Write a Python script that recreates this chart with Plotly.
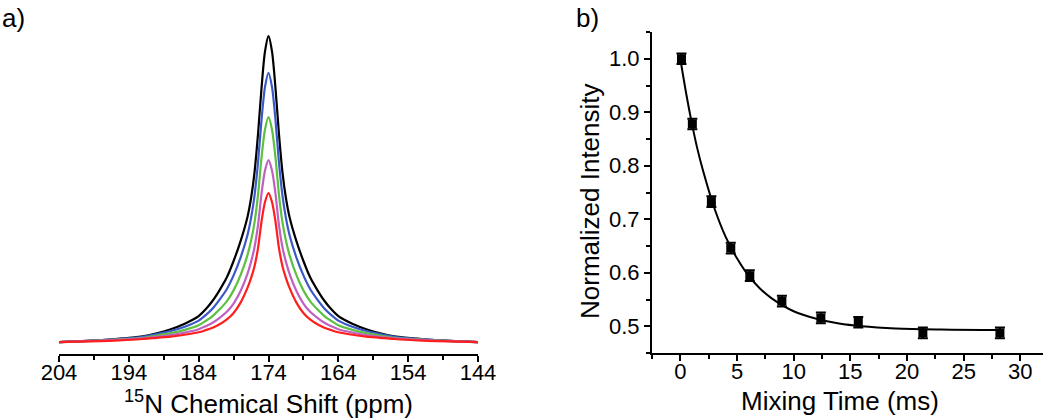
import plotly.graph_objects as go

# ---------------- Panel a) : 15N spectra ----------------
ppm = [204, 200, 196, 192, 190, 188, 186, 184, 183, 182, 181, 180, 179, 178, 177,
       176.5, 176, 175.5, 175, 174.5, 174, 173.5, 173, 172.5, 172, 171.5, 171,
       170, 169, 168, 167, 166, 165, 164, 162, 160, 158, 156, 152, 148, 144]

black_int = [0.0, 0.004, 0.01, 0.019, 0.029, 0.042, 0.06, 0.085, 0.107, 0.135, 0.17,
             0.21, 0.265, 0.33, 0.41, 0.47, 0.555, 0.68, 0.83, 0.95, 1.0,
             0.95, 0.83, 0.68, 0.555, 0.47, 0.41, 0.33, 0.265, 0.21, 0.17,
             0.135, 0.107, 0.085, 0.06, 0.042, 0.029, 0.019, 0.01, 0.004, 0.0]
blue_int = [0.0, 0.004, 0.009, 0.017, 0.026, 0.036, 0.050, 0.070, 0.088, 0.110, 0.139,
            0.172, 0.218, 0.276, 0.351, 0.405, 0.479, 0.587, 0.726, 0.834, 0.88,
            0.834, 0.726, 0.587, 0.479, 0.405, 0.351, 0.276, 0.218, 0.172, 0.139,
            0.110, 0.088, 0.070, 0.050, 0.036, 0.026, 0.017, 0.009, 0.004, 0.0]
green_int = [0.0, 0.003, 0.008, 0.014, 0.021, 0.029, 0.040, 0.055, 0.069, 0.085, 0.107,
             0.132, 0.169, 0.219, 0.285, 0.331, 0.391, 0.481, 0.603, 0.695, 0.735,
             0.695, 0.603, 0.481, 0.391, 0.331, 0.285, 0.219, 0.169, 0.132, 0.107,
             0.085, 0.069, 0.055, 0.040, 0.029, 0.021, 0.014, 0.008, 0.003, 0.0]
magenta_int = [0.0, 0.003, 0.007, 0.012, 0.017, 0.023, 0.031, 0.042, 0.052, 0.063, 0.079,
               0.098, 0.126, 0.167, 0.224, 0.262, 0.310, 0.382, 0.485, 0.561, 0.595,
               0.561, 0.485, 0.382, 0.310, 0.262, 0.224, 0.167, 0.126, 0.098, 0.079,
               0.063, 0.052, 0.042, 0.031, 0.023, 0.017, 0.012, 0.007, 0.003, 0.0]
red_int = [0.0, 0.002, 0.005, 0.010, 0.014, 0.018, 0.024, 0.032, 0.039, 0.047, 0.058,
           0.073, 0.095, 0.129, 0.178, 0.209, 0.248, 0.307, 0.394, 0.458, 0.487,
           0.458, 0.394, 0.307, 0.248, 0.209, 0.178, 0.129, 0.095, 0.073, 0.058,
           0.047, 0.039, 0.032, 0.024, 0.018, 0.014, 0.010, 0.005, 0.002, 0.0]

spectra = [black_int, blue_int, green_int, magenta_int, red_int]
spec_colors = ["#000000", "#3a58c8", "#5cc040", "#c060c0", "#ff1e1e"]

ppm_ticks = [204, 194, 184, 174, 164, 154, 144]

# ---------------- Panel b) : decay ----------------
mix_time = [0.1, 1.06, 2.74, 4.45, 6.13, 8.96, 12.4, 15.7, 21.4, 28.2]
norm_int = [1.0, 0.878, 0.733, 0.646, 0.5945, 0.547, 0.5155, 0.5075, 0.4876, 0.4876]
norm_err = [0.01, 0.01, 0.01, 0.01, 0.01, 0.01, 0.01, 0.01, 0.01, 0.01]

fit_t = [0.0, 0.5, 1.0, 1.5, 2.0, 3.0, 4.0, 5.0, 6.0, 7.0, 8.0, 10.0, 12.0, 14.0,
         16.0, 19.0, 23.0, 28.3]
fit_y = [1.0, 0.937, 0.881, 0.832, 0.791, 0.721, 0.667, 0.627, 0.595, 0.571, 0.553,
         0.528, 0.514, 0.505, 0.500, 0.496, 0.494, 0.493]

FONT = "Arial, 'Liberation Sans', Helvetica, sans-serif"
W, H = 1050, 418


def px_x(p):
    return p / W


def px_y(p):
    return 1 - p / H


fig = go.Figure()

for vals, col in zip(spectra, spec_colors):
    fig.add_trace(go.Scatter(x=ppm, y=vals, mode="lines",
                             line=dict(color=col, width=2.2, shape="spline", smoothing=0.8),
                             xaxis="x", yaxis="y", showlegend=False, hoverinfo="skip"))

fig.add_trace(go.Scatter(x=fit_t, y=fit_y, mode="lines",
                         line=dict(color="black", width=2, shape="spline", smoothing=1.0),
                         xaxis="x2", yaxis="y2", showlegend=False))
fig.add_trace(go.Scatter(x=mix_time, y=norm_int, mode="markers",
                         marker=dict(symbol="square", size=9, color="black"),
                         error_y=dict(type="data", array=norm_err, visible=True,
                                      color="black", thickness=2, width=5),
                         xaxis="x2", yaxis="y2", showlegend=False))

axis_common = dict(showgrid=False, zeroline=False, showline=True, linecolor="black",
                   linewidth=2, ticks="outside", tickcolor="black", tickwidth=2,
                   ticklen=6, automargin=False,
                   tickfont=dict(family=FONT, size=22, color="black"))

fig.update_layout(
    width=W, height=H,
    margin=dict(l=0, r=0, t=0, b=0, pad=0, autoexpand=False),
    paper_bgcolor="white", plot_bgcolor="white",
    xaxis=dict(domain=[px_x(59), px_x(478)], range=[204, 144], anchor="y",
               tickvals=ppm_ticks, ticklabelstandoff=-8,
               minor=dict(dtick=5, tick0=144, ticks="outside", ticklen=4, tickwidth=2,
                          tickcolor="black"),
               **axis_common),
    yaxis=dict(domain=[px_y(354), px_y(30)], range=[-0.039, 1.02], visible=False,
               automargin=False),
    xaxis2=dict(domain=[px_x(652), px_x(1043)], range=[-2.5, 32], anchor="y2",
                tickvals=[0, 5, 10, 15, 20, 25, 30], ticklabelstandoff=-8,
                minor=dict(dtick=2.5, tick0=0, ticks="outside", ticklen=4, tickwidth=2,
                           tickcolor="black"),
                **axis_common),
    yaxis2=dict(domain=[px_y(353), px_y(32)], range=[0.45, 1.05], anchor="x2",
                tickvals=[0.5, 0.6, 0.7, 0.8, 0.9, 1.0], tickformat=".1f",
                minor=dict(dtick=0.05, tick0=0.45, ticks="outside", ticklen=4, tickwidth=2,
                           tickcolor="black"),
                **axis_common),
)

ann_font = dict(family=FONT, size=26, color="black")
fig.add_annotation(text="a)", x=px_x(0), y=px_y(18), xref="paper", yref="paper",
                   xanchor="left", yanchor="middle", showarrow=False,
                   font=dict(family=FONT, size=26, color="black"))
fig.add_annotation(text="b)", x=px_x(574), y=px_y(18), xref="paper", yref="paper",
                   xanchor="left", yanchor="middle", showarrow=False,
                   font=dict(family=FONT, size=26, color="black"))
fig.add_annotation(text="<sup>15</sup>N Chemical Shift (ppm)", x=px_x(268.5), y=px_y(402),
                   xref="paper", yref="paper", xanchor="center", yanchor="middle",
                   showarrow=False, font=ann_font)
fig.add_annotation(text="Mixing Time (ms)", x=px_x(840), y=px_y(401),
                   xref="paper", yref="paper", xanchor="center", yanchor="middle",
                   showarrow=False, font=ann_font)
fig.add_annotation(text="Normalized Intensity", x=px_x(590), y=px_y(201),
                   xref="paper", yref="paper", xanchor="center", yanchor="middle",
                   textangle=-90, showarrow=False, font=ann_font)

fig.write_html("out.html", config={"displayModeBar": False},
               post_script="document.body.style.margin='0';document.body.style.padding='0';")
